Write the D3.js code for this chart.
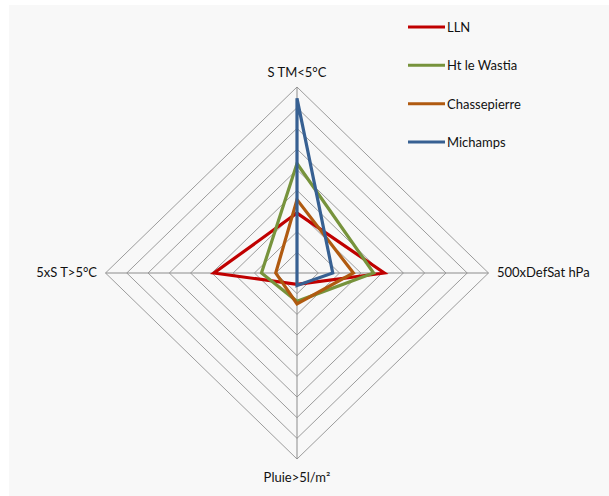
<!DOCTYPE html>
<html><head><meta charset="utf-8">
<script src="https://cdn.jsdelivr.net/npm/d3@7"></script>
<style>body{margin:0;background:#fff}svg{display:block}text{font-family:Lato,"Open Sans",sans-serif}</style>
</head><body>
<svg id="c" width="609" height="496"></svg>
<script>
const axes = ["S TM<5°C", "500xDefSat hPa", "Pluie>5l/m²", "5xS T>5°C"];
const seriesNames = ["LLN", "Ht le Wastia", "Chassepierre", "Michamps"];
const colors = ["#c00000", "#77933c", "#b05a10", "#376092"];
const valLLN = [2.9, 4.1, 0.55, 3.9];
const valWastia = [5.3, 3.6, 1.37, 1.67];
const valChasse = [3.55, 2.65, 1.5, 1.0];
const valMichamps = [8.45, 1.68, 0.6, 0.0];
const ringLevels = [1,2,3,4,5,6,7,8,9];
const maxVal = 9;

const svg = d3.select("#c");
svg.append("rect").attr("x",9).attr("y",5).attr("width",600).attr("height",491).attr("fill","#f8f8f8");

const cx = 297, cy = 273;
const rx = d3.scaleLinear().domain([0,maxVal]).range([0,191.5]);
const ry = d3.scaleLinear().domain([0,maxVal]).range([0,186]);
const angles = axes.map((d,i)=> -Math.PI/2 + i*Math.PI/2);
function pt(v,i){ return [cx + Math.cos(angles[i])*rx(v), cy + Math.sin(angles[i])*ry(v)]; }
const line = d3.line().curve(d3.curveLinearClosed);

const g = svg.append("g");
g.selectAll("path.ring").data(ringLevels).enter().append("path")
  .attr("d", l => line(axes.map((a,i)=>pt(l,i))))
  .attr("fill","none").attr("stroke","#9c9c9c").attr("stroke-width",1);
g.selectAll("line.ax").data(axes).enter().append("line")
  .attr("x1",cx).attr("y1",cy)
  .attr("x2",(d,i)=>pt(maxVal,i)[0]).attr("y2",(d,i)=>pt(maxVal,i)[1])
  .attr("stroke","#8c8c8c").attr("stroke-width",1);

const data = [valLLN, valWastia, valChasse, valMichamps];
g.selectAll("path.s").data(data).enter().append("path")
  .attr("d", vals => line(vals.map((v,i)=>pt(v,i))))
  .attr("fill","none").attr("stroke",(d,i)=>colors[i]).attr("stroke-width",3.2).attr("stroke-linejoin","miter");

// axis labels
const lab = [
  {x:cx, y:77, a:"middle"},
  {x:497, y:277, a:"start"},
  {x:cx, y:482, a:"middle"},
  {x:97, y:277, a:"end"}
];
g.selectAll("text.al").data(axes).enter().append("text")
  .attr("x",(d,i)=>lab[i].x).attr("y",(d,i)=>lab[i].y).attr("text-anchor",(d,i)=>lab[i].a)
  .attr("font-size",13).attr("fill","#111").text(d=>d);

// legend
const lg = svg.append("g");
const ly = d3.scalePoint().domain(seriesNames).range([27,142]);
seriesNames.forEach((n,i)=>{
  lg.append("line").attr("x1",408).attr("x2",445).attr("y1",ly(n)).attr("y2",ly(n))
    .attr("stroke",colors[i]).attr("stroke-width",3);
  lg.append("text").attr("x",447).attr("y",ly(n)+5).attr("font-size",13).attr("fill","#111").text(n);
});
</script>
</body></html>
